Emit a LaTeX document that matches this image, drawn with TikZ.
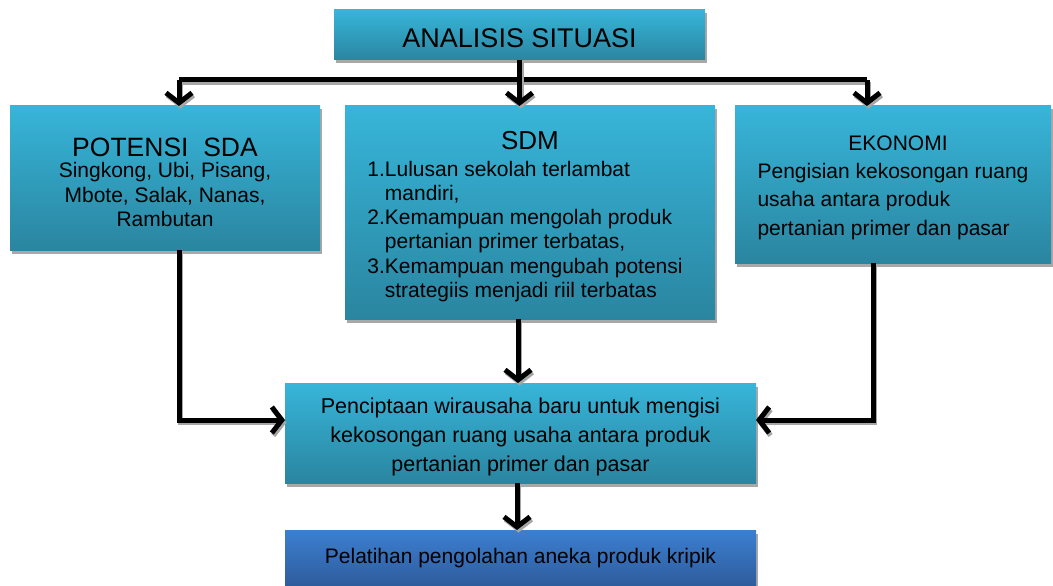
\documentclass[tikz,border=0pt]{standalone}
\usepackage{fontspec}
\setmainfont{Liberation Sans}
\usetikzlibrary{arrows.meta,shadows}
\definecolor{boxtop}{HTML}{37B5D9}
\definecolor{boxbot}{HTML}{2A85A0}
\definecolor{bluetop}{HTML}{3C7FD1}
\definecolor{bluebot}{HTML}{2E5C9C}
\definecolor{shadowgray}{HTML}{A8A8A8}
\tikzset{
  box/.style={shade, top color=boxtop, bottom color=boxbot, draw=none,
    inner sep=0pt, outer sep=0pt, align=center,
    drop shadow={shadow xshift=1.5pt, shadow yshift=-3.5pt, fill=shadowgray, opacity=1}},
  bluebox/.style={box, top color=bluetop, bottom color=bluebot},
  conn/.style={line width=5pt, black, line join=miter,
    preaction={draw=black!35, line width=5pt, transform canvas={shift={(1.5pt,-2.5pt)}}}},
  arr/.style={conn, -{Straight Barb[length=10pt,width=26pt,line width=5pt]}},
  fz/.style={font=\fontsize{21}{24.5}\selectfont}
}
\begin{document}
\begin{tikzpicture}[x=1pt,y=-1pt]
\useasboundingbox (0,0) rectangle (1053,586);
% boxes
\node[box, minimum width=371pt, minimum height=50pt, font=\fontsize{27}{30}\selectfont] (top) at (519.5,35) {\rule{0pt}{24.5pt}ANALISIS SITUASI};
\node[box, minimum width=310pt, minimum height=144pt, fz] (sda) at (165,178)
  {{\fontsize{26.5}{29}\selectfont\rule{0pt}{27pt}POTENSI\ \ SDA}\\[-3pt]Singkong, Ubi, Pisang,\\Mbote, Salak, Nanas,\\Rambutan};
\node[box, minimum width=370pt, minimum height=213pt, fz] (sdm) at (530,212.5)
  {{\fontsize{26}{28}\selectfont\rule{0pt}{29.5pt}SDM}\\[2pt]%
   \renewcommand{\arraystretch}{0.99}%
   \hspace*{-10pt}\begin{tabular}[t]{@{}l@{}l@{}}
   1.&Lulusan sekolah terlambat\\
     &mandiri,\\
   2.&Kemampuan mengolah produk\\
     &pertanian primer terbatas,\\
   3.&Kemampuan mengubah potensi\\
     &strategiis menjadi riil terbatas
   \end{tabular}};
\node[box, minimum width=316pt, minimum height=157pt, fz] (eko) at (893,184.5)
  {\hspace*{10pt}\rule{0pt}{25pt}EKONOMI\\[4pt]%
   \renewcommand{\arraystretch}{1.16}%
   \begin{tabular}[t]{@{}l@{}}
   Pengisian kekosongan ruang\\
   usaha antara produk\\
   pertanian primer dan pasar
   \end{tabular}};
\node[box, minimum width=471pt, minimum height=100pt, font=\fontsize{21.5}{29}\selectfont] (mid) at (520.5,433)
  {\rule{0pt}{22.5pt}Penciptaan wirausaha baru untuk mengisi\\kekosongan ruang usaha antara produk\\pertanian primer dan pasar};
\node[bluebox, minimum width=471pt, minimum height=56pt, fz] (bot) at (520.5,558)
  {Pelatihan pengolahan aneka produk kripik};
% junction coordinates
\coordinate (jl) at (179,80);
\coordinate (jr) at (867,80);
\coordinate (lb) at (179,420);
\coordinate (rb) at (873,420);
\coordinate (c1) at (518,0);
\coordinate (c2) at (517,0);
% connectors
\draw[conn] (jl) -- (jr);
\draw[arr] (top.south) -- (sdm.north -| top.south);
\draw[arr] (jl) -- (jl |- sda.north);
\draw[arr] (jr) -- (jr |- eko.north);
\draw[arr] (sda.south -| lb) -- (lb) -- (lb -| mid.west);
\draw[arr] (eko.south -| rb) -- (rb) -- (rb -| mid.east);
\draw[arr] (sdm.south -| c1) -- (mid.north -| c1);
\draw[arr] (mid.south -| c2) -- (bot.north -| c2);
\end{tikzpicture}
\end{document}
